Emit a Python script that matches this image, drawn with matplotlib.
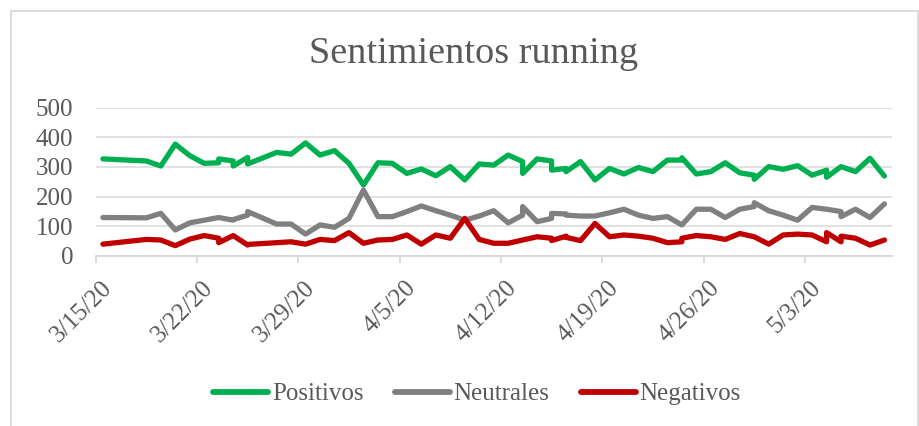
import numpy as np
import pandas as pd
import matplotlib
matplotlib.use("Agg")
import matplotlib.pyplot as plt
import matplotlib.transforms as mtransforms
from matplotlib.patches import Rectangle

# datos (fechas repetidas = dos registros el mismo dia)
fechas = ["2020-03-15", "2020-03-18", "2020-03-19", "2020-03-20", "2020-03-21",
          "2020-03-22", "2020-03-23", "2020-03-23", "2020-03-24", "2020-03-24",
          "2020-03-25", "2020-03-25", "2020-03-27", "2020-03-28", "2020-03-29",
          "2020-03-30", "2020-03-31", "2020-04-01", "2020-04-02", "2020-04-03",
          "2020-04-04", "2020-04-05", "2020-04-06", "2020-04-07", "2020-04-08",
          "2020-04-09", "2020-04-10", "2020-04-11", "2020-04-12", "2020-04-13",
          "2020-04-13", "2020-04-14", "2020-04-15", "2020-04-15", "2020-04-16",
          "2020-04-16", "2020-04-17", "2020-04-18", "2020-04-19", "2020-04-20",
          "2020-04-21", "2020-04-22", "2020-04-23", "2020-04-24", "2020-04-24",
          "2020-04-25", "2020-04-26", "2020-04-27", "2020-04-28", "2020-04-29",
          "2020-04-29", "2020-04-30", "2020-05-01", "2020-05-02", "2020-05-03",
          "2020-05-04", "2020-05-04", "2020-05-05", "2020-05-05", "2020-05-06",
          "2020-05-07", "2020-05-08"]

positivos = [327, 320, 303, 377, 338, 312, 314, 327, 320, 303,
             332, 310, 349, 343, 381, 340, 355, 312, 239, 314,
             312, 278, 293, 270, 301, 256, 310, 306, 340, 318,
             278, 327, 320, 289, 295, 284, 318, 256, 295, 276,
             298, 284, 323, 323, 331, 276, 284, 314, 280, 272,
             258, 301, 292, 304, 272, 289, 265, 301, 301, 284,
             329, 269]

neutrales = [129, 128, 143, 87, 111, 120, 129, 129, 120, 122,
             137, 149, 107, 107, 73, 104, 96, 126, 222, 132,
             132, 149, 168, 152, 137, 120, 134, 152, 111, 137,
             166, 115, 126, 143, 141, 137, 134, 134, 145, 157,
             137, 126, 132, 104, 104, 157, 157, 129, 157, 166,
             179, 152, 137, 120, 163, 157, 157, 149, 132, 157,
             129, 175]

negativos = [39, 55, 53, 34, 56, 68, 59, 44, 68, 68,
             36, 38, 44, 47, 39, 55, 51, 78, 42, 53,
             55, 70, 39, 70, 59, 126, 55, 42, 42, 53,
             53, 64, 59, 51, 66, 62, 51, 109, 64, 70,
             66, 59, 44, 47, 59, 68, 64, 55, 75, 64,
             64, 39, 70, 73, 70, 47, 78, 47, 66, 59,
             36, 53]

series = ["Positivos", "Neutrales", "Negativos"]
colores = ["#00B050", "#808080", "#C00000"]
yticks = [0, 100, 200, 300, 400, 500]

plt.rcParams["font.family"] = ["Liberation Serif", "DejaVu Serif"]
texto = "#595959"
rejilla = "#D9D9D9"

W, H = 919, 426
fig = plt.figure(figsize=(W / 100, H / 100), dpi=100)
ax = fig.add_axes([95.7 / W, 1 - 255.7 / H, 796 / W, 148 / H])

x = pd.to_datetime(fechas) + pd.Timedelta(hours=12)
for nombre, vals, c in zip(series, [positivos, neutrales, negativos], colores):
    ax.plot(x, vals, color=c, lw=3.8, solid_capstyle="round",
            solid_joinstyle="round", label=nombre)

ax.set_ylim(0, 500)
ax.set_yticks(yticks)
ax.set_xlim(pd.Timestamp("2020-03-15"), pd.Timestamp("2020-05-09"))
ticks = pd.date_range("2020-03-15", "2020-05-03", freq="7D")
ax.set_xticks(ticks)
ax.set_xticklabels([f"{d.month}/{d.day}/20" for d in ticks])

ax.grid(axis="y", color=rejilla, lw=1.1)
ax.set_axisbelow(True)
for s in ["top", "right", "left"]:
    ax.spines[s].set_visible(False)
ax.spines["bottom"].set_color(rejilla)
ax.spines["bottom"].set_linewidth(1.3)

ax.tick_params(axis="y", length=0, pad=16, labelsize=18, labelcolor=texto)
ax.tick_params(axis="x", length=5, width=1.3, color=rejilla, direction="out",
               pad=10, labelsize=18, labelcolor=texto)
offset = mtransforms.ScaledTranslation(5 / 100, 0, fig.dpi_scale_trans)
for lab in ax.get_xticklabels():
    lab.set_rotation(45)
    lab.set_ha("right")
    lab.set_va("top")
    lab.set_rotation_mode("anchor")
    lab.set_transform(lab.get_transform() + offset)

fig.text(473.5 / W, 1 - 63.3 / H, "Sentimientos running", fontsize=27.5,
         color=texto, ha="center", va="baseline")

leg = fig.legend(loc="center", bbox_to_anchor=(477 / W, 1 - 394 / H), ncol=3,
                 frameon=False, fontsize=18, handlelength=2.2,
                 handletextpad=0.15, columnspacing=1.25, borderaxespad=0)
for t in leg.get_texts():
    t.set_color(texto)
for h in leg.get_lines():
    h.set_linewidth(4.2)

fig.patches.append(Rectangle((11 / W, -0.05), 907 / W, 1.05 - 11 / H,
                             transform=fig.transFigure, fill=False,
                             edgecolor=rejilla, lw=1.3))

fig.savefig("out.png", dpi=100)
